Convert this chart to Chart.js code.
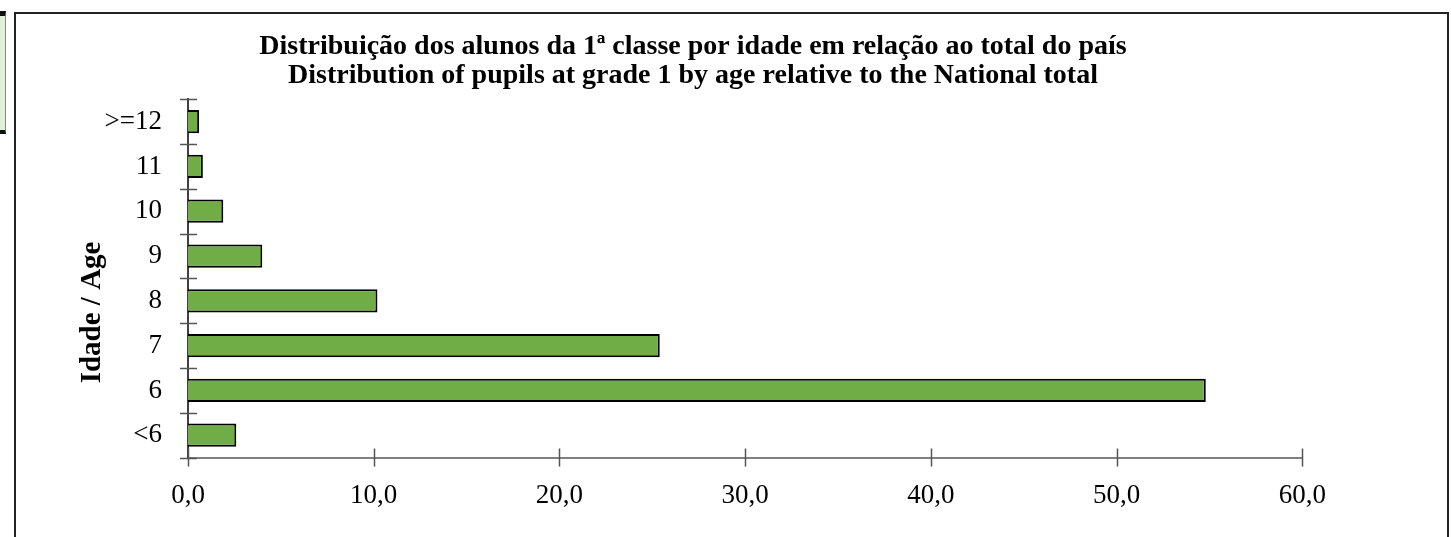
<!DOCTYPE html>
<html>
<head>
<meta charset="utf-8">
<script src="https://cdn.jsdelivr.net/npm/chart.js@4/dist/chart.umd.min.js"></script>
<style>
    body { margin: 0; background: #fff; width: 1451px; height: 537px; overflow: hidden; position: relative; }
    #sideBox { position: absolute; left: 0; top: 11px; width: 5px; height: 114px; background: #e2efda; border-top: 5px solid #111; border-bottom: 4px solid #111; border-right: 1px solid #888; }
    #frame { position: absolute; left: 14px; top: 12px; width: 1431px; height: 540px; border: 2px solid #222; }
    #chart { position: absolute; left: 16px; top: 14px; }
</style>
</head>
<body>
<div id="sideBox"></div>
<div id="frame"></div>
<canvas id="chart" width="1324" height="523"></canvas>
<script>
// Chart data.
var ageLabels = ["<6", "6", "7", "8", "9", "10", "11", ">=12"];
var pupilShares = [2.6, 54.8, 25.4, 10.2, 4.0, 1.9, 0.8, 0.6];
var titleLines = [
    "Distribuição dos alunos da 1ª classe por idade em relação ao total do país",
    "Distribution of pupils at grade 1 by age relative to the National total"
];
var axisTitle = "Idade / Age";
var xMin = 0, xMax = 60, xStep = 10;

// Draw tick marks crossing both axes, as in the original spreadsheet chart.
var crossTicks = {
    id: "crossTicks",
    afterDraw: function (chart) {
        var ctx = chart.ctx;
        var area = chart.chartArea;
        var xScale = chart.scales.x;
        var yScale = chart.scales.y;
        ctx.save();
        ctx.lineWidth = 1.5;
        ctx.strokeStyle = "#555";
        ctx.beginPath();
        for (var i = 0; i < xScale.ticks.length; i++) {
            var px = Math.round(xScale.getPixelForTick(i)) + 0.5;
            ctx.moveTo(px, area.bottom - 9);
            ctx.lineTo(px, area.bottom + 9);
        }
        for (var j = 0; j <= ageLabels.length; j++) {
            var py = Math.round(yScale.getPixelForValue(j - 0.5)) + 0.5;
            ctx.moveTo(area.left - 8, py);
            ctx.lineTo(area.left + 9, py);
        }
        ctx.stroke();
        // Vertical axis title, sitting a bit lower than the plot centre.
        ctx.translate(area.left - 95, (area.top + area.bottom) / 2 + 34);
        ctx.rotate(-Math.PI / 2);
        ctx.font = "bold 29px 'Liberation Serif'";
        ctx.fillStyle = "#000";
        ctx.textAlign = "center";
        ctx.textBaseline = "middle";
        ctx.fillText(axisTitle, 0, 0);
        ctx.restore();
    }
};

new Chart(document.getElementById("chart"), {
    type: "bar",
    data: {
        labels: ageLabels,
        datasets: [
            {
                data: pupilShares,
                backgroundColor: "#70ad47",
                borderColor: "#000",
                borderWidth: 2,
                barPercentage: 0.52,
                categoryPercentage: 1.0
            }
        ]
    },
    options: {
        indexAxis: "y",
        responsive: false,
        animation: false,
        devicePixelRatio: 1,
        layout: { padding: { left: 48, right: 18, top: 0, bottom: 11 } },
        plugins: {
            legend: { display: false },
            tooltip: { enabled: false },
            title: {
                display: true,
                text: titleLines,
                color: "#000",
                font: { family: "Liberation Serif", size: 28, weight: "bold", lineHeight: 1.04 },
                padding: { top: 18, bottom: 9 }
            }
        },
        scales: {
            x: {
                min: xMin,
                max: xMax,
                grid: { display: false },
                border: { display: true, color: "#808080", width: 2 },
                ticks: {
                    stepSize: xStep,
                    padding: 14,
                    color: "#000",
                    font: { family: "Liberation Serif", size: 27 },
                    callback: function (value) { return value.toFixed(1).replace(".", ","); }
                }
            },
            y: {
                reverse: true,
                offset: true,
                grid: { display: false },
                border: { display: true, color: "#404040", width: 2 },
                ticks: {
                    padding: 18,
                    color: "#000",
                    font: { family: "Liberation Serif", size: 27 }
                },
                afterFit: function (scale) {
                    // Room for the tick labels plus the axis title drawn by the plugin.
                    scale.width = 124;
                }
            }
        }
    },
    plugins: [crossTicks]
});
</script>
</body>
</html>
